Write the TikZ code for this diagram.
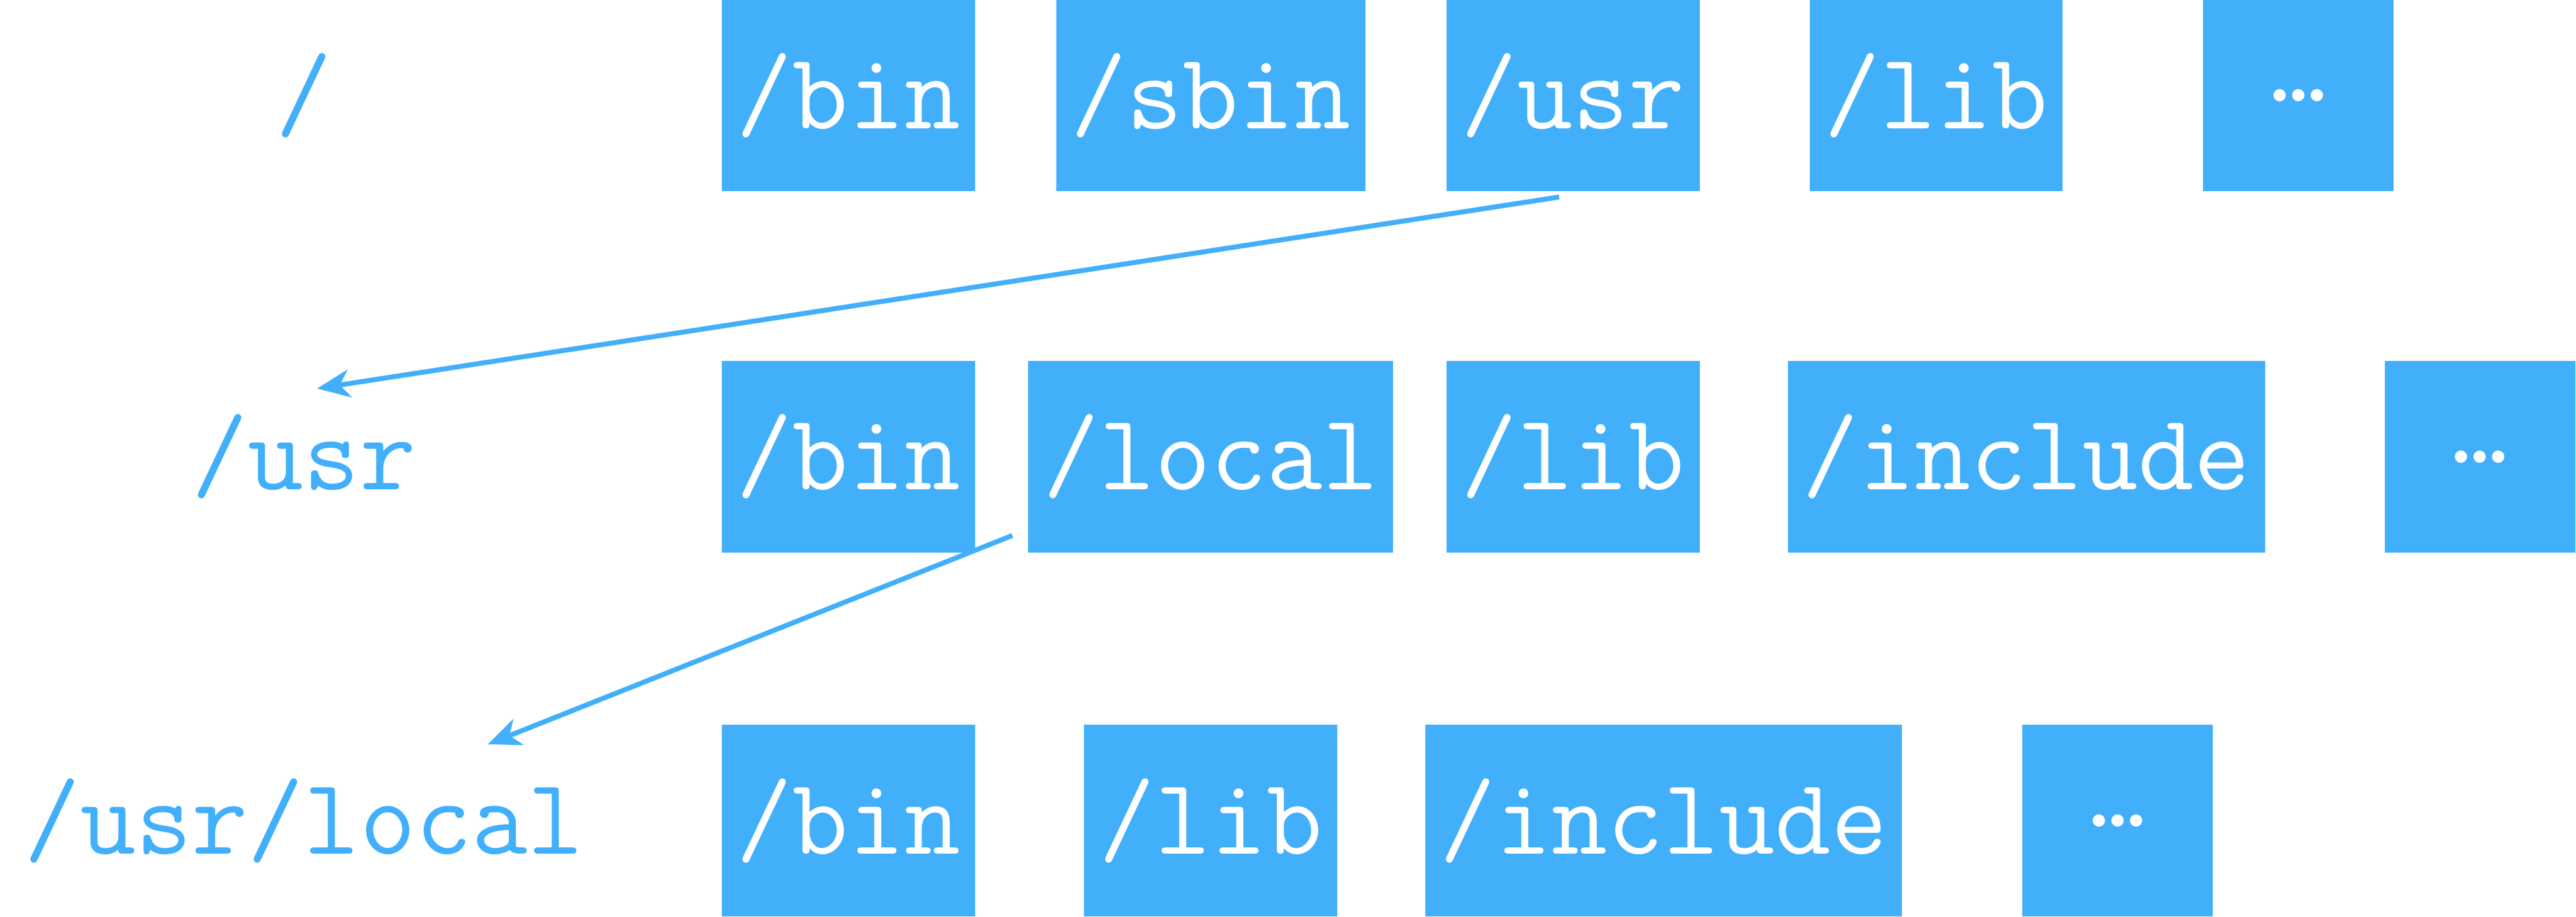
\documentclass[tikz,border=0pt]{standalone}
\usepackage{fontspec}
\usetikzlibrary{arrows.meta}
\definecolor{dirblue}{RGB}{66,175,250}
\begin{document}
\begin{tikzpicture}[font=\ttfamily\fontsize{18.8}{22}\selectfont]
\useasboundingbox (0,0) rectangle (15.68,5.58);
\begin{scope}[every node/.style={fill=dirblue, text=white, inner xsep=0.09cm, minimum height=1.165cm, minimum width=1.16cm}]
    \node (rbin) at (5.165,5.0) {/bin};
    \node (rsbin) at (7.37,5.0) {/sbin};
    \node (rusr) at (9.575,5.0) {/usr};
    \node (rlib) at (11.785,5.0) {/lib};
    \node (rdots) at (13.99,5.0) {…};
    \node (ubin) at (5.165,2.8) {/bin};
    \node (ulocal) at (7.37,2.8) {/local};
    \node (ulib) at (9.575,2.8) {/lib};
    \node (uinclude) at (12.335,2.8) {/include};
    \node (udots) at (15.095,2.8) {…};
    \node (lbin) at (5.165,0.585) {/bin};
    \node (llib) at (7.37,0.585) {/lib};
    \node (linclude) at (10.125,0.585) {/include};
    \node (ldots) at (12.89,0.585) {…};
\end{scope}
\begin{scope}[every node/.style={text=dirblue, inner sep=0cm}]
    \node (root) at (1.85,5.0) {/};
    \node (usr) at (1.85,2.8) {/usr};
    \node (usrlocal) at (1.85,0.585) {/usr/local};
\end{scope}
\begin{scope}[every edge/.style={draw=dirblue, line width=0.03cm, -{Stealth[length=0.2cm, width=0.17cm, inset=0.06cm]}}]
    \path ([xshift=-0.085cm, yshift=-0.03cm]rusr.south) edge ([shift={(0.08,0.415)}]usr.center);
    \path ([shift={(-0.09,0.11)}]ulocal.south west) edge ([shift={(1.12,0.465)}]usrlocal.center);
\end{scope}
\end{tikzpicture}
\end{document}
